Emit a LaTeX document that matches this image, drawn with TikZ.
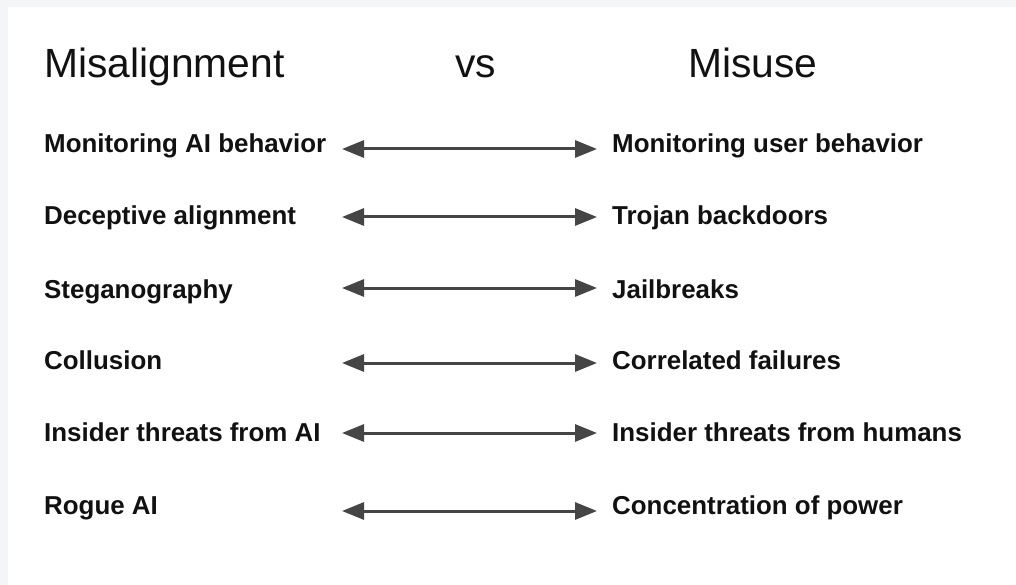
\documentclass[tikz,border=0pt]{standalone}
\usepackage{fontspec}
\setmainfont{Liberation Sans}
\usetikzlibrary{arrows.meta}
\definecolor{framegray}{HTML}{F4F5F7}
\definecolor{arrowgray}{HTML}{454545}
\definecolor{inkblack}{HTML}{111111}
\tikzset{
  heading/.style={anchor=base west, inner sep=0pt, text=inkblack, font=\fontsize{40.8}{44}\selectfont},
  item/.style={anchor=base west, inner sep=0pt, text=inkblack, font=\bfseries\fontsize{25.9}{30}\selectfont},
  link/.style={draw=arrowgray, line width=3pt, {Triangle[length=22pt,width=17pt]}-{Triangle[length=22pt,width=17pt]}}
}
\begin{document}
\begin{tikzpicture}[x=1pt,y=-1pt]
  % page background and white panel
  \fill[framegray] (0,0) rectangle (1016,585);
  \fill[white] (8,7) rectangle (1016,585);
  \useasboundingbox (0,0) rectangle (1016,585);

  % column headings
  \node[heading] (hL) at (44,78) {Misalignment};
  \node[heading] (hV) at (455,78) {vs};
  \node[heading] (hR) at (688,78) {Misuse};

  % left column
  \node[item] (l1) at (44,153) {Monitoring AI behavior};
  \node[item] (l2) at (44,225) {Deceptive alignment};
  \node[item] (l3) at (44,298) {Steganography};
  \node[item] (l4) at (44,369) {Collusion};
  \node[item] (l5) at (44,441) {Insider threats from AI};
  \node[item] (l6) at (44,514) {Rogue AI};

  % right column
  \node[item] (r1) at (612,153) {Monitoring user behavior};
  \node[item] (r2) at (612,225) {Trojan backdoors};
  \node[item] (r3) at (612,298) {Jailbreaks};
  \node[item] (r4) at (612,369) {Correlated failures};
  \node[item] (r5) at (612,441) {Insider threats from humans};
  \node[item] (r6) at (612,514) {Concentration of power};

  % arrow end points
  \foreach \i/\y in {1/149, 2/217, 3/288, 4/363, 5/433, 6/511} {
    \coordinate (a\i) at (342,\y);
    \coordinate (b\i) at (597,\y);
    \draw[link] (a\i) -- (b\i);
  }
\end{tikzpicture}
\end{document}
